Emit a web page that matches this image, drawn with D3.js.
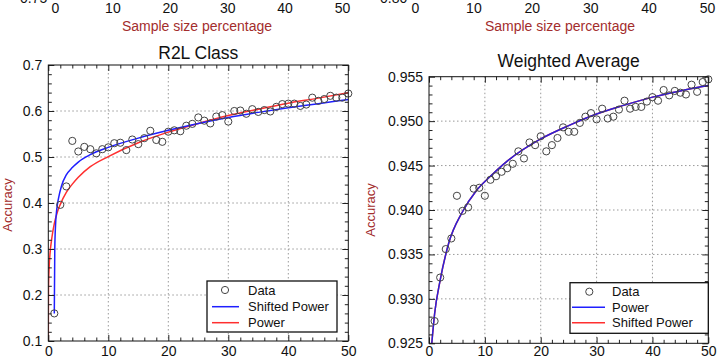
<!DOCTYPE html>
<html>
<head>
<meta charset="UTF-8">
<title>Learning curves</title>
<script src="https://d3js.org/d3.v7.min.js"></script>
<style>
  body { margin: 0; background: #fff; }
  svg { font-family: "Liberation Sans", Arial, sans-serif; }
</style>
</head>
<body>
<svg width="721" height="359"></svg>
<script>
// sample size (%) for the data points
const sampleSize = [1,2,3,4,5,6,7,8,9,10,11,12,13,14,15,16,17,18,19,20,
  21,22,23,24,25,26,27,28,29,30,31,32,33,34,35,36,37,38,39,40,
  41,42,43,44,45,46,47,48,49,50];

// R2L class accuracy
const r2lData = [0.160,0.396,0.436,0.535,0.512,0.522,0.517,0.508,0.517,0.521,
  0.530,0.531,0.515,0.538,0.528,0.541,0.557,0.537,0.533,0.555,
  0.558,0.556,0.568,0.572,0.586,0.579,0.573,0.588,0.591,0.577,
  0.600,0.601,0.594,0.604,0.598,0.602,0.599,0.609,0.615,0.616,
  0.616,0.611,0.614,0.629,0.622,0.626,0.633,0.629,0.629,0.638];
const r2lShiftedX = [1.0,1.08,1.2,1.4,1.7,2.2,3,4,5,7,10,15,20,25,30,35,40,45,50];
const r2lShiftedY = [0.160,0.300,0.350,0.385,0.410,0.437,0.461,0.477,0.489,0.505,
  0.521,0.541,0.558,0.573,0.586,0.597,0.607,0.616,0.625];
const r2lPowerX = [0,0.03,0.15,0.3,0.6,1,1.5,2,3,4,5,7,10,15,20,25,30,35,40,45,50];
const r2lPowerY = [0.100,0.210,0.262,0.292,0.325,0.355,0.380,0.397,0.423,0.441,
  0.456,0.479,0.501,0.531,0.554,0.573,0.590,0.604,0.617,0.628,0.640];

// weighted average accuracy
const wavgData = [0.9275,0.9324,0.9356,0.9368,0.9416,0.9399,0.9403,0.9424,0.9425,0.9416,
  0.9434,0.9438,0.9443,0.9447,0.9452,0.9466,0.9458,0.9476,0.9473,0.9483,
  0.9466,0.9473,0.9481,0.9493,0.9488,0.9488,0.9498,0.9505,0.9509,0.9502,
  0.9514,0.9503,0.9505,0.9513,0.9523,0.9514,0.9516,0.9516,0.9522,0.9527,
  0.9523,0.9535,0.9529,0.9534,0.9532,0.9530,0.9541,0.9533,0.9544,0.9547];
const wavgPowerX = [0.5,1,2,3.5,6,8.5,11,14,20,25,30,35,40,45,50];
const wavgPowerY = [0.9250,0.9283,0.9321,0.9362,0.9398,0.9422,0.9438,0.9455,0.9480,
  0.9495,0.9508,0.9518,0.9527,0.9534,0.9540];
const wavgShiftedX = wavgPowerX;
const wavgShiftedY = [0.9250,0.9283,0.9321,0.9362,0.9398,0.9422,0.9438,0.9455,0.9480,
  0.9495,0.9508,0.9518,0.9527,0.9534,0.9540];

const xTicks = [0,10,20,30,40,50];
const xMinor = [2,4,6,8,12,14,16,18,22,24,26,28,32,34,36,38,42,44,46,48];

const BLUE = "#1f1fff", RED = "#ff2f2f", LABEL = "#a32d2d";
const FONT = "Liberation Sans, Arial, sans-serif";

const svg = d3.select("svg");

function styleAxisText(sel) {
  sel.selectAll("text").attr("fill", "#111").attr("font-size", 14).attr("font-family", FONT);
}

function drawPanel(cfg) {
  const x = d3.scaleLinear().domain([0, 50]).range([cfg.left, cfg.right]);
  const y = d3.scaleLinear().domain(cfg.yDomain).range([cfg.bottom, cfg.top]);
  const g = svg.append("g");

  // dotted grid
  g.selectAll(".gx").data(xTicks.slice(1, -1)).join("line")
    .attr("x1", d => x(d)).attr("x2", d => x(d))
    .attr("y1", cfg.top).attr("y2", cfg.bottom)
    .attr("stroke", "#9a9a9a").attr("stroke-dasharray", "1.5,2.5");
  g.selectAll(".gy").data(cfg.yTicks.slice(1, -1)).join("line")
    .attr("y1", d => y(d)).attr("y2", d => y(d))
    .attr("x1", cfg.left).attr("x2", cfg.right)
    .attr("stroke", "#9a9a9a").attr("stroke-dasharray", "1.5,2.5");

  const clipId = "clip" + cfg.id;
  svg.append("clipPath").attr("id", clipId).append("rect")
    .attr("x", cfg.left).attr("y", cfg.top)
    .attr("width", cfg.right - cfg.left).attr("height", cfg.bottom - cfg.top);

  const line = d3.line().x(d => x(d[0])).y(d => y(d[1])).curve(d3.curveMonotoneX);
  cfg.curves.forEach(c => {
    g.append("path")
      .datum(c.xs.map((v, i) => [v, c.ys[i]]))
      .attr("clip-path", `url(#${clipId})`)
      .attr("fill", "none").attr("stroke", c.color).attr("stroke-width", 1.5)
      .attr("d", line);
  });

  g.selectAll(".pt").data(cfg.data).join("circle")
    .attr("cx", (d, i) => x(sampleSize[i]))
    .attr("cy", d => y(d))
    .attr("r", 3.6)
    .attr("fill", "none").attr("stroke", "#444").attr("stroke-width", 1);

  // axes, ticks pointing inwards
  const ax = g.append("g");
  ax.append("g").attr("transform", `translate(0,${cfg.bottom})`)
    .call(d3.axisBottom(x).tickValues(xTicks).tickSize(-6).tickPadding(cfg.xPad).tickSizeOuter(0));
  ax.append("g").attr("transform", `translate(0,${cfg.bottom})`)
    .call(d3.axisBottom(x).tickValues(xMinor).tickSize(-3.5).tickFormat("").tickSizeOuter(0));
  ax.append("g").attr("transform", `translate(0,${cfg.top})`)
    .call(d3.axisTop(x).tickValues(xTicks).tickSize(-6).tickFormat("").tickSizeOuter(0));
  ax.append("g").attr("transform", `translate(0,${cfg.top})`)
    .call(d3.axisTop(x).tickValues(xMinor).tickSize(-3.5).tickFormat("").tickSizeOuter(0));
  ax.append("g").attr("transform", `translate(${cfg.left},0)`)
    .call(d3.axisLeft(y).tickValues(cfg.yTicks).tickSize(-6).tickPadding(6)
      .tickFormat(cfg.fmt).tickSizeOuter(0));
  ax.append("g").attr("transform", `translate(${cfg.left},0)`)
    .call(d3.axisLeft(y).tickValues(cfg.yMinor).tickSize(-3.5).tickFormat("").tickSizeOuter(0));
  ax.append("g").attr("transform", `translate(${cfg.right},0)`)
    .call(d3.axisRight(y).tickValues(cfg.yTicks).tickSize(-6).tickFormat("").tickSizeOuter(0));
  ax.append("g").attr("transform", `translate(${cfg.right},0)`)
    .call(d3.axisRight(y).tickValues(cfg.yMinor).tickSize(-3.5).tickFormat("").tickSizeOuter(0));
  styleAxisText(ax);
  ax.selectAll(".domain").remove();
  ax.selectAll(".tick line").attr("stroke", "#222");

  g.append("rect")
    .attr("x", cfg.left).attr("y", cfg.top)
    .attr("width", cfg.right - cfg.left).attr("height", cfg.bottom - cfg.top)
    .attr("fill", "none").attr("stroke", "#111").attr("stroke-width", 1);

  g.append("text")
    .attr("x", (cfg.left + cfg.right) / 2).attr("y", cfg.titleY)
    .attr("text-anchor", "middle").attr("font-size", 17.5).attr("fill", "#111")
    .text(cfg.title);

  g.append("text")
    .attr("transform", `translate(${cfg.ylabX},${cfg.ylabY}) rotate(-90)`)
    .attr("text-anchor", "middle").attr("font-size", 13).attr("fill", LABEL)
    .text("Accuracy");

  // legend
  const L = cfg.legend;
  const lg = g.append("g");
  lg.append("rect").attr("x", L.x).attr("y", L.y).attr("width", L.w).attr("height", L.h)
    .attr("fill", "#fff").attr("stroke", "#111").attr("stroke-width", 1.3);
  lg.append("circle").attr("cx", L.mx).attr("cy", L.rows[0]).attr("r", 3.6)
    .attr("fill", "none").attr("stroke", "#444");
  L.entries.forEach((e, i) => {
    if (e.color) {
      lg.append("line").attr("x1", L.l1).attr("x2", L.l2)
        .attr("y1", L.rows[i]).attr("y2", L.rows[i])
        .attr("stroke", e.color).attr("stroke-width", 1.5);
    }
    lg.append("text").attr("x", L.tx).attr("y", L.rows[i] + 4.5)
      .attr("font-size", 13).attr("fill", "#111").text(e.label);
  });

  // bits of the charts above (cut off at the top)
  const xUp = d3.scaleLinear().domain([0, 50]).range(cfg.upperRange);
  const up = svg.append("g");
  up.call(d3.axisBottom(xUp).tickValues(xTicks).tickSize(0).tickPadding(3));
  up.selectAll(".domain").remove();
  styleAxisText(up);
  svg.append("text").attr("x", cfg.upperLabelX).attr("y", 30.5)
    .attr("text-anchor", "middle").attr("font-size", 14).attr("fill", LABEL)
    .text("Sample size percentage");
  svg.append("text").attr("x", cfg.upperY.x).attr("y", 2.5)
    .attr("font-size", 14).attr("fill", "#111").text(cfg.upperY.label);
}

drawPanel({
  id: "a", left: 48.3, right: 348.3, top: 65, bottom: 341, xPad: 5.5,
  yDomain: [0.1, 0.7],
  yTicks: [0.1,0.2,0.3,0.4,0.5,0.6,0.7],
  yMinor: [0.12,0.14,0.16,0.18,0.22,0.24,0.26,0.28,0.32,0.34,0.36,0.38,
    0.42,0.44,0.46,0.48,0.52,0.54,0.56,0.58,0.62,0.64,0.66,0.68],
  fmt: d3.format(".1f"),
  data: r2lData,
  curves: [
    { xs: r2lPowerX, ys: r2lPowerY, color: RED },
    { xs: r2lShiftedX, ys: r2lShiftedY, color: BLUE }
  ],
  title: "R2L Class", titleY: 58.5,
  ylabX: 12, ylabY: 205,
  legend: { x: 207, y: 281, w: 130, h: 51, mx: 225, l1: 212, l2: 239, tx: 248,
    rows: [290, 306.7, 322.7],
    entries: [{ label: "Data" }, { label: "Shifted Power", color: BLUE }, { label: "Power", color: RED }] },
  upperRange: [55, 342], upperLabelX: 197, upperY: { x: 20, label: "0.75" }
});

drawPanel({
  id: "b", left: 429, right: 708.3, top: 76.7, bottom: 343.3, xPad: 3,
  yDomain: [0.925, 0.955],
  yTicks: [0.925,0.930,0.935,0.940,0.945,0.950,0.955],
  yMinor: [0.926,0.927,0.928,0.929,0.931,0.932,0.933,0.934,0.936,0.937,0.938,0.939,
    0.941,0.942,0.943,0.944,0.946,0.947,0.948,0.949,0.951,0.952,0.953,0.954],
  fmt: d3.format(".3f"),
  data: wavgData,
  curves: [
    { xs: wavgShiftedX, ys: wavgShiftedY, color: RED },
    { xs: wavgPowerX, ys: wavgPowerY, color: "#2a22d8" }
  ],
  title: "Weighted Average", titleY: 66.5,
  ylabX: 375, ylabY: 210,
  legend: { x: 570, y: 282.7, w: 138.3, h: 50.6, mx: 589.3, l1: 572, l2: 605, tx: 612,
    rows: [291.7, 307.3, 322.7],
    entries: [{ label: "Data" }, { label: "Power", color: BLUE }, { label: "Shifted Power", color: RED }] },
  upperRange: [415, 707], upperLabelX: 560, upperY: { x: 380, label: "0.80" }
});
</script>
</body>
</html>
